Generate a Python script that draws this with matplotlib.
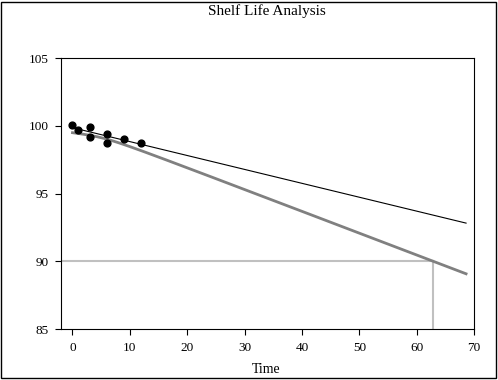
import numpy as np
import matplotlib.pyplot as plt

plt.rcParams['font.family'] = ['Liberation Serif', 'DejaVu Serif']

# stability data
time = [0, 1, 3, 3, 6, 6, 9, 12]
assay = [100.1, 99.66, 99.93, 99.19, 99.41, 98.75, 99.05, 98.73]
spec_limit = 90
t_crit = 1.943  # one-sided 95%, 6 df
t_end = 68.6

t = np.array(time, dtype=float)
y = np.array(assay)
n = len(t)
slope, intercept = np.polyfit(t, y, 1)
resid = y - (intercept + slope * t)
s = np.sqrt(np.sum(resid ** 2) / (n - 2))
sxx = np.sum((t - t.mean()) ** 2)

tt = np.linspace(0, t_end, 300)
fit = intercept + slope * tt
lower = fit - t_crit * s * np.sqrt(1 / n + (tt - t.mean()) ** 2 / sxx)

# where the lower bound meets the spec limit
shelf = np.interp(spec_limit, lower[::-1], tt[::-1])

fig = plt.figure(figsize=(4.98, 3.8), dpi=100)
ax = fig.add_axes([0.1225, 0.134, 0.8295, 0.713])

ax.plot([-2, shelf], [spec_limit, spec_limit], color='#c0c0c0', lw=1.5)
ax.plot([shelf, shelf], [85, spec_limit], color='#c0c0c0', lw=1.5)
ax.plot(tt, lower, color='#808080', lw=2)
ax.plot(tt, fit, color='black', lw=0.8)
ax.scatter(time, assay, color='black', s=24, zorder=5)

ax.set_xlim(-2, 70)
ax.set_ylim(85, 105)
ax.set_xticks(range(0, 71, 10))
ax.set_yticks(range(85, 106, 5))
ax.tick_params(direction='out', length=4, width=0.8, labelsize=9.5, pad=5)
for sp in ax.spines.values():
    sp.set_linewidth(0.8)

fig.text(0.535, 0.028, 'Time', ha='center', va='center', fontsize=10)
fig.text(0.535, 0.971, 'Shelf Life Analysis', ha='center', va='center', fontsize=11)

# outer chart border
fig.patches.append(plt.Rectangle((0.003, 0.004), 0.993, 0.992, transform=fig.transFigure,
                                 fill=False, edgecolor='black', lw=1))

fig.savefig('out.png', dpi=100)
